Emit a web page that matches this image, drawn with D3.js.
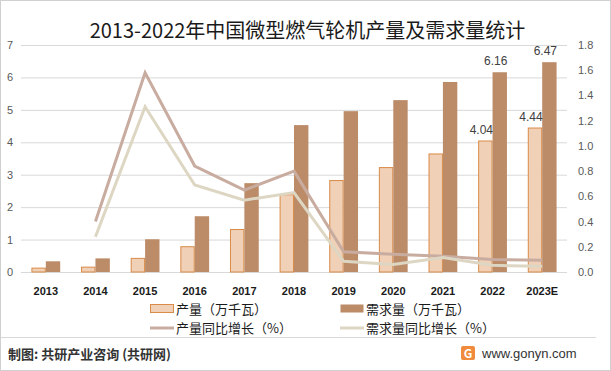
<!DOCTYPE html>
<html>
<head>
<meta charset="utf-8">
<script src="https://cdn.jsdelivr.net/npm/d3@7"></script>
<style>
body { margin: 0; background: #fff; }
svg { font-family: "Noto Sans CJK SC", "Liberation Sans", sans-serif; }
</style>
</head>
<body>
<svg id="chart" width="611" height="371"></svg>
<script>
const WIDTH = 611;
const HEIGHT = 371;
const PLOT_LEFT = 21;
const PLOT_RIGHT = 567;
const PLOT_TOP = 45;
const PLOT_BOTTOM = 272;

const years = ['2013', '2014', '2015', '2016', '2017', '2018', '2019', '2020', '2021', '2022', '2023E'];
const production = [0.12, 0.15, 0.42, 0.78, 1.31, 2.38, 2.82, 3.22, 3.64, 4.04, 4.44];
const demand = [0.33, 0.42, 1.01, 1.72, 2.74, 4.53, 4.96, 5.30, 5.86, 6.16, 6.47];
// growth starts from 2014
const productionGrowth = [null, 0.40, 1.58, 0.84, 0.65, 0.80, 0.16, 0.14, 0.125, 0.10, 0.093];
const demandGrowth = [null, 0.28, 1.31, 0.69, 0.57, 0.63, 0.085, 0.06, 0.115, 0.053, 0.045];
const leftTicks = [0, 1, 2, 3, 4, 5, 6, 7];
const rightTicks = [0, 0.2, 0.4, 0.6, 0.8, 1.0, 1.2, 1.4, 1.6, 1.8];
const labelledYears = ['2022', '2023E'];

const svg = d3.select('#chart');

// outer frame
svg.append('rect')
	.attr('x', 0.5).attr('y', 0.5)
	.attr('width', WIDTH - 1).attr('height', HEIGHT - 1)
	.attr('fill', '#fff').attr('stroke', '#d0d0d0');

svg.append('text')
	.attr('x', WIDTH / 2 + 2)
	.attr('y', 38)
	.attr('text-anchor', 'middle')
	.attr('font-size', '20px')
	.attr('fill', '#1a1a1a')
	.text('2013-2022年中国微型燃气轮机产量及需求量统计');

const x = d3.scaleBand()
	.domain(years)
	.range([PLOT_LEFT, PLOT_RIGHT])
	.paddingInner(0)
	.paddingOuter(0);

const inner = d3.scaleBand()
	.domain(['prod', 'dem'])
	.range([x.bandwidth() * 0.21, x.bandwidth() * 0.79]);

const yLeft = d3.scaleLinear().domain([0, 7]).range([PLOT_BOTTOM, PLOT_TOP]);
const yRight = d3.scaleLinear().domain([0, 1.8]).range([PLOT_BOTTOM, PLOT_TOP]);

// gridlines
svg.append('g')
	.attr('transform', `translate(${PLOT_LEFT},0)`)
	.call(d3.axisLeft(yLeft).tickValues(leftTicks).tickSize(-(PLOT_RIGHT - PLOT_LEFT)).tickFormat(''))
	.call(g => g.select('.domain').remove())
	.call(g => g.selectAll('line').attr('stroke', '#d9d9d9').attr('stroke-width', 1));

// left axis labels
svg.append('g')
	.attr('transform', `translate(${PLOT_LEFT - 8},0)`)
	.call(d3.axisLeft(yLeft).tickValues(leftTicks).tickSize(0).tickPadding(0).tickFormat(d3.format('d')))
	.call(g => g.select('.domain').remove())
	.call(g => g.selectAll('text')
		.attr('font-family', '"Liberation Sans", sans-serif')
		.attr('font-size', '11px').attr('fill', '#595959'));

// right axis labels
svg.append('g')
	.attr('transform', `translate(${PLOT_RIGHT + 11},0)`)
	.call(d3.axisRight(yRight).tickValues(rightTicks).tickSize(0).tickPadding(0).tickFormat(d3.format('.1f')))
	.call(g => g.select('.domain').remove())
	.call(g => g.selectAll('text')
		.attr('font-family', '"Liberation Sans", sans-serif')
		.attr('font-size', '11px').attr('fill', '#595959'));

// x axis labels
svg.append('g')
	.attr('transform', `translate(0,${PLOT_BOTTOM + 9})`)
	.call(d3.axisBottom(x).tickSize(0).tickPadding(6))
	.call(g => g.select('.domain').remove())
	.call(g => g.selectAll('text')
		.attr('font-family', '"Liberation Sans", sans-serif')
		.attr('font-weight', 'bold')
		.attr('font-size', '11px').attr('fill', '#1a1a1a'));

// bars
const groups = svg.append('g').selectAll('g.year')
	.data(years)
	.join('g')
	.attr('class', 'year')
	.attr('transform', d => `translate(${x(d)},0)`);

groups.append('rect')
	.attr('x', inner('prod') + 0.5)
	.attr('y', (d, i) => yLeft(production[i]))
	.attr('width', inner.bandwidth() - 1)
	.attr('height', (d, i) => yLeft(0) - yLeft(production[i]))
	.attr('fill', '#f0d0b6')
	.attr('stroke', '#d98b48')
	.attr('stroke-width', 1);

groups.append('rect')
	.attr('x', inner('dem'))
	.attr('y', (d, i) => yLeft(demand[i]))
	.attr('width', inner.bandwidth())
	.attr('height', (d, i) => yLeft(0) - yLeft(demand[i]))
	.attr('fill', '#bc8c69');

// data labels on last two years
const labelGroups = groups.filter(d => labelledYears.includes(d));
labelGroups.append('text')
	.attr('x', inner('prod') + inner.bandwidth() / 2 - 4)
	.attr('y', d => yLeft(production[years.indexOf(d)]) - 7)
	.attr('text-anchor', 'middle')
	.attr('font-family', '"Liberation Sans", sans-serif')
	.attr('font-size', '12px').attr('fill', '#404040')
	.text(d => production[years.indexOf(d)].toFixed(2));
labelGroups.append('text')
	.attr('x', inner('dem') + inner.bandwidth() / 2 - 4)
	.attr('y', d => yLeft(demand[years.indexOf(d)]) - 7)
	.attr('text-anchor', 'middle')
	.attr('font-family', '"Liberation Sans", sans-serif')
	.attr('font-size', '12px').attr('fill', '#404040')
	.text(d => demand[years.indexOf(d)].toFixed(2));

// growth lines
const line = d3.line()
	.defined(d => d[1] !== null)
	.x(d => x(d[0]) + x.bandwidth() / 2)
	.y(d => yRight(d[1]));

svg.append('path')
	.datum(years.map((y, i) => [y, productionGrowth[i]]))
	.attr('d', line)
	.attr('fill', 'none')
	.attr('stroke', '#c9aca0')
	.attr('stroke-width', 3);

svg.append('path')
	.datum(years.map((y, i) => [y, demandGrowth[i]]))
	.attr('d', line)
	.attr('fill', 'none')
	.attr('stroke', '#ddd6c3')
	.attr('stroke-width', 3);

// legend
const legend = svg.append('g').attr('font-size', '13px').attr('fill', '#1a1a1a');
const legendItems = [
	{label: '产量（万千瓦）', type: 'bar', fill: '#f0d0b6', stroke: '#d98b48', x: 150, y: 309},
	{label: '需求量（万千瓦）', type: 'bar', fill: '#bc8c69', stroke: 'none', x: 340, y: 309},
	{label: '产量同比增长（%）', type: 'line', stroke: '#c9aca0', x: 150, y: 328},
	{label: '需求量同比增长（%）', type: 'line', stroke: '#ddd6c3', x: 340, y: 328}
];
legendItems.forEach(item => {
	if (item.type === 'bar') {
		legend.append('rect')
			.attr('x', item.x + 0.5).attr('y', item.y - 4.5)
			.attr('width', 23).attr('height', 8)
			.attr('fill', item.fill).attr('stroke', item.stroke);
	} else {
		legend.append('line')
			.attr('x1', item.x).attr('x2', item.x + 24)
			.attr('y1', item.y).attr('y2', item.y)
			.attr('stroke', item.stroke).attr('stroke-width', 3);
	}
	legend.append('text')
		.attr('x', item.x + 26).attr('y', item.y + 5)
		.text(item.label);
});

// footer
svg.append('line')
	.attr('x1', 1).attr('x2', 596)
	.attr('y1', 337.5).attr('y2', 337.5)
	.attr('stroke', '#d9d9d9');

svg.append('text')
	.attr('x', 8).attr('y', 359)
	.attr('font-size', '13px')
	.attr('font-weight', 'bold')
	.attr('fill', '#333')
	.text('制图: 共研产业咨询 (共研网)');

const logo = svg.append('g').attr('transform', 'translate(461,346)');
logo.append('rect')
	.attr('width', 14).attr('height', 14).attr('rx', 2)
	.attr('fill', '#f08a3c');
logo.append('text')
	.attr('x', 7).attr('y', 12)
	.attr('text-anchor', 'middle')
	.attr('font-size', '12px').attr('font-weight', 'bold').attr('fill', '#fff')
	.text('G');

svg.append('text')
	.attr('x', 482).attr('y', 358)
	.attr('font-family', '"Liberation Sans", sans-serif')
	.attr('font-size', '13px')
	.attr('fill', '#333')
	.text('www.gonyn.com');
</script>
</body>
</html>
